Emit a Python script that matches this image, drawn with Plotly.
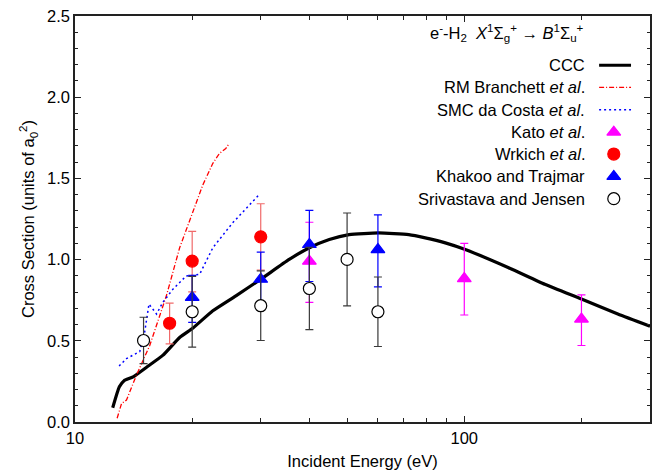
import plotly.graph_objects as go

# CCC theory (solid black)
ccc_e = [12.5, 13.0, 13.35, 14.1, 15.3, 16.8, 18.6, 20.1, 22.6, 25.9, 30, 35.5, 40, 45,
         50.6, 60.3, 72, 79.4, 89.4, 100.6, 130, 161, 200, 248, 300]
ccc_cs = [0.088, 0.217, 0.253, 0.278, 0.339, 0.41, 0.522, 0.579, 0.685, 0.777, 0.879, 1.001,
          1.073, 1.124, 1.154, 1.164, 1.154, 1.134, 1.103, 1.062, 0.950, 0.848, 0.757, 0.665, 0.59]

# R-matrix, Branchett et al.
rm_e = [12.83, 13.17, 13.56, 14.38, 15.56, 17.17, 18.57, 20.08, 21.3, 22.6, 23.5, 24.4, 24.9]
rm_cs = [0.023, 0.114, 0.135, 0.288, 0.471, 0.777, 1.073, 1.30, 1.46, 1.593, 1.654, 1.684, 1.715]

# Schwinger multichannel, da Costa et al.
smc_e = [12.98, 13.56, 14.67, 15.1, 15.49, 16.2, 16.8, 17.85, 19.3, 20.9, 22.6, 25.4, 29.7]
smc_cs = [0.345, 0.39, 0.434, 0.553, 0.726, 0.665, 0.736, 0.818, 0.899, 0.909, 1.073, 1.226, 1.399]

# Measurements
kato_e = [40, 100, 200]
kato_cs = [0.99, 0.883, 0.634]
kato_up = [0.24, 0.217, 0.149]
kato_dn = [0.254, 0.224, 0.163]

wrk_e = [17.5, 20, 30]
wrk_cs = [0.608, 0.991, 1.140]
wrk_up = [0.124, 0.183, 0.204]
wrk_dn = [0.127, 0.19, 0.204]

kt_e = [20, 30, 40, 60]
kt_cs = [0.767, 0.879, 1.093, 1.062]
kt_up = [0.136, 0.167, 0.21, 0.214]
kt_dn = [0.153, 0.167, 0.228, 0.23]

sj_e = [15, 20, 30, 40, 50, 60]
sj_cs = [0.502, 0.679, 0.716, 0.822, 1.001, 0.679]
sj_err = [0.143, 0.218, 0.214, 0.253, 0.286, 0.214]

legend_labels = ["CCC", "RM Branchett <i>et al</i>.", "SMC da Costa <i>et al</i>.",
                 "Kato <i>et al</i>.", "Wrkich <i>et al</i>.", "Khakoo and Trajmar",
                 "Srivastava and Jensen"]

FONT = "Liberation Sans, Arial, Helvetica, sans-serif"
MAG = "#ff00ff"
RED = "#ff0000"
BLUE = "#0000ff"

fig = go.Figure()

fig.add_trace(go.Scatter(x=ccc_e, y=ccc_cs, mode="lines",
                         line=dict(color="black", width=3.2, shape="spline", smoothing=0.5)))
fig.add_trace(go.Scatter(x=rm_e, y=rm_cs, mode="lines",
                         line=dict(color=RED, width=1.3, dash="5px,2px,1px,2px")))
fig.add_trace(go.Scatter(x=smc_e, y=smc_cs, mode="lines",
                         line=dict(color=BLUE, width=1.5, dash="2px,3px")))


def points(x, y, up, dn, symbol, fill, edge, barcol):
    return go.Scatter(
        x=x, y=y, mode="markers",
        marker=dict(symbol=symbol, size=12, color=fill, line=dict(color=edge, width=1.2)),
        error_y=dict(type="data", symmetric=False, array=up, arrayminus=dn,
                     color=barcol, thickness=1.2, width=4),
    )


fig.add_trace(points(kato_e, kato_cs, kato_up, kato_dn, "triangle-up", MAG, MAG, MAG))
fig.add_trace(points(wrk_e, wrk_cs, wrk_up, wrk_dn, "circle", RED, RED, "#f06a6a"))
fig.add_trace(points(kt_e, kt_cs, kt_up, kt_dn, "triangle-up", BLUE, BLUE, BLUE))
fig.add_trace(points(sj_e, sj_cs, sj_err, sj_err, "circle", "white", "black", "#3a3a3a"))

# Key: labels right-aligned with samples to their right
rows_y = [0.879, 0.824, 0.769, 0.714, 0.660, 0.605, 0.550]
text_x = 0.891
sample_x0, sample_x1 = 0.9115, 0.967
sample_xc = 0.937

annotations = []
for lab, ry in zip(legend_labels, rows_y):
    annotations.append(dict(x=text_x, y=ry, xref="paper", yref="paper", text=lab,
                            showarrow=False, xanchor="right", yanchor="middle",
                            font=dict(family=FONT, size=16.5, color="black")))

annotations.append(dict(
    x=0.888, y=0.958, xref="paper", yref="paper", showarrow=False,
    xanchor="right", yanchor="middle",
    text="e<sup>-</sup>-H<sub>2</sub>  <i>X</i><sup>1</sup>Σ<sub>g</sub><sup>+</sup>"
         " → <i>B</i><sup>1</sup>Σ<sub>u</sub><sup>+</sup>",
    font=dict(family=FONT, size=16.5, color="black")))

shapes = [
    dict(type="line", xref="paper", yref="paper", x0=sample_x0, x1=sample_x1,
         y0=rows_y[0], y1=rows_y[0], line=dict(color="black", width=3)),
    dict(type="line", xref="paper", yref="paper", x0=sample_x0, x1=sample_x1,
         y0=rows_y[1], y1=rows_y[1], line=dict(color=RED, width=1.3, dash="5px,2px,1px,2px")),
    dict(type="line", xref="paper", yref="paper", x0=sample_x0, x1=sample_x1,
         y0=rows_y[2], y1=rows_y[2], line=dict(color=BLUE, width=1.5, dash="2px,3px")),
]

key_sym = ["triangle-up", "circle", "triangle-up", "circle"]
key_fill = [MAG, RED, BLUE, "white"]
key_edge = [MAG, RED, BLUE, "black"]
fig.add_trace(go.Scatter(
    x=[sample_xc] * 4, y=rows_y[3:], xaxis="x2", yaxis="y2", mode="markers",
    marker=dict(symbol=key_sym, size=12, color=key_fill, line=dict(color=key_edge, width=1.2)),
    hoverinfo="skip"))

axis_common = dict(showline=True, linecolor="#222222", linewidth=1.5, mirror="ticks",
                   ticks="inside", tickcolor="#222222", showgrid=False, zeroline=False,
                   tickfont=dict(family=FONT, size=16.5, color="black"))

fig.update_layout(
    width=659, height=475,
    margin=dict(l=75, r=7, t=15, b=51),
    paper_bgcolor="white", plot_bgcolor="white",
    showlegend=False,
    font=dict(family=FONT, size=16.5, color="black"),
    xaxis=dict(type="log", range=[1, 2.4771], tickvals=[10, 100], ticktext=["10", "100"],
               ticklen=6,
               minor=dict(tickvals=[20, 30, 40, 50, 60, 70, 80, 90, 200, 300],
                          ticks="inside", ticklen=4, tickcolor="#222222", showgrid=False),
               title=dict(text="Incident Energy (eV)", standoff=10,
                          font=dict(family=FONT, size=16.5)),
               **axis_common),
    yaxis=dict(range=[0, 2.5], dtick=0.5, tickformat=".1f", ticklen=6,
               minor=dict(dtick=0.1, ticks="inside", ticklen=3, tickcolor="#222222",
                          showgrid=False),
               title=dict(text="Cross Section (units of a<sub>0</sub><sup>2</sup>)", standoff=8,
                          font=dict(family=FONT, size=16.5)),
               **axis_common),
    xaxis2=dict(overlaying="x", range=[0, 1], visible=False, fixedrange=True),
    yaxis2=dict(overlaying="y", range=[0, 1], visible=False, fixedrange=True),
    annotations=annotations,
    shapes=shapes,
)

fig.write_html("out.html")
